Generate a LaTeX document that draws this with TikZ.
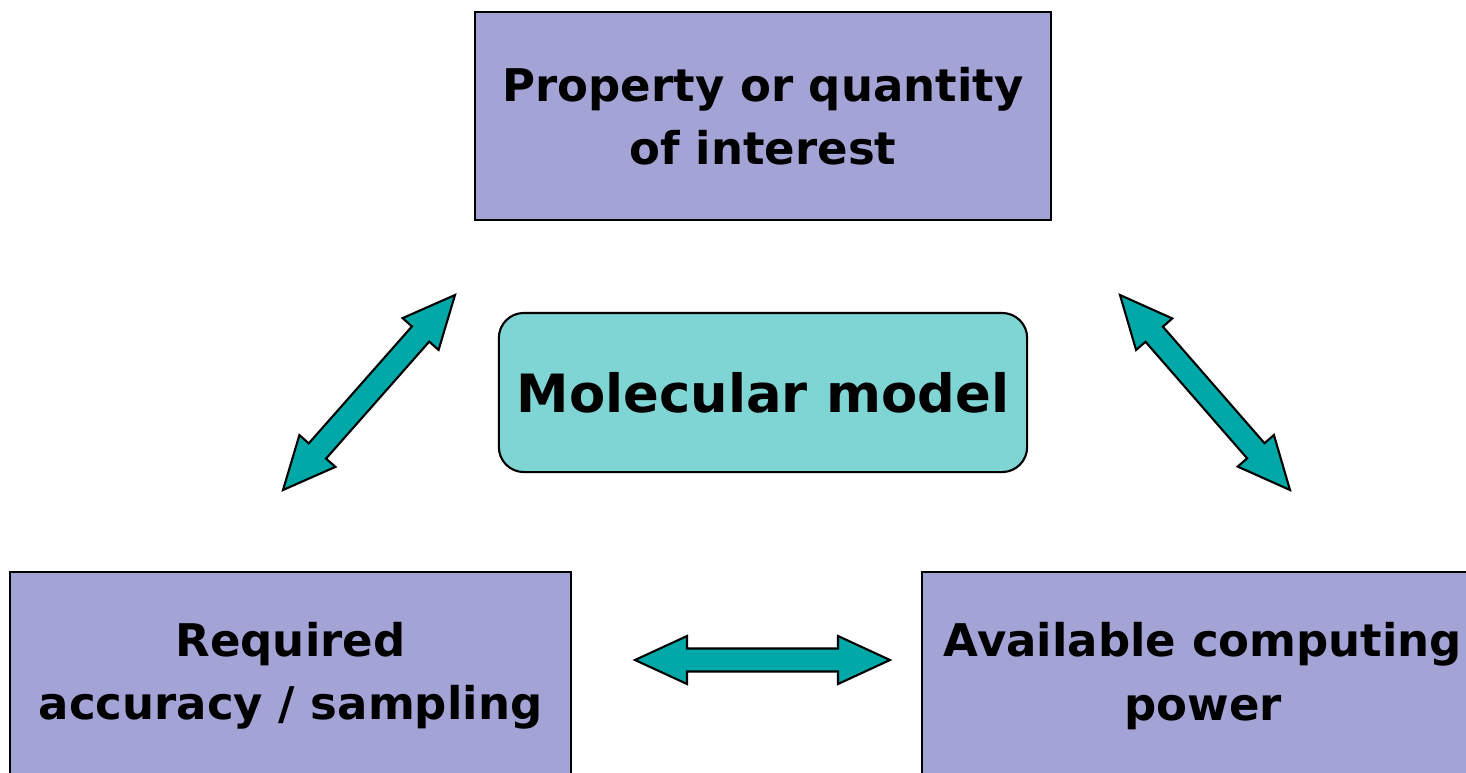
\documentclass[tikz,border=0pt]{standalone}
\usepackage{fontspec}
\setmainfont{DejaVu Sans}
\usetikzlibrary{positioning,calc}
\definecolor{boxlav}{RGB}{163,163,214}
\definecolor{boxcyan}{RGB}{127,212,212}
\definecolor{arrteal}{RGB}{0,168,168}
% fat double arrow between two named points
\newcommand{\fatarrow}[2]{%
\draw[fatarr] (#1) -- ($(#1)!0.52cm!(#2)!0.24cm!90:(#2)$) -- ($(#1)!0.52cm!(#2)!0.115cm!90:(#2)$)
 -- ($(#2)!0.52cm!(#1)!0.115cm!-90:(#1)$) -- ($(#2)!0.52cm!(#1)!0.24cm!-90:(#1)$) -- (#2)
 -- ($(#2)!0.52cm!(#1)!0.24cm!90:(#1)$) -- ($(#2)!0.52cm!(#1)!0.115cm!90:(#1)$)
 -- ($(#1)!0.52cm!(#2)!0.115cm!-90:(#2)$) -- ($(#1)!0.52cm!(#2)!0.24cm!-90:(#2)$) -- cycle;}

\begin{document}
\begin{tikzpicture}[x=0.01cm,y=-0.01cm,
  sqbox/.style={draw,line width=0.6pt,fill=boxlav,align=center,inner sep=0pt,
    minimum height=2.08cm,font=\bfseries\fontsize{12.8}{18}\selectfont},
  fatarr/.style={draw,line width=0.6pt,fill=arrteal,line join=miter}]
\useasboundingbox (0,0) rectangle (1466,772);
\clip (0,0) rectangle (1466,772);
% the four boxes
\node[sqbox,minimum width=5.76cm] (prop) at (763,116) {Property or quantity\\of interest};
\node[draw,line width=0.6pt,fill=boxcyan,rounded corners=0.25cm,minimum width=5.28cm,minimum height=1.59cm,
  inner sep=0pt,font=\bfseries\fontsize{15}{20}\selectfont] (model) at (763,392.5) {Molecular model};
\node[sqbox,minimum width=5.61cm] (accu) at (290.5,676) {Required\\accuracy / sampling};
\node[sqbox,minimum width=5.62cm] (comp) at (1203,676) {Available computing\\power};
% arrow ends
\coordinate (la) at (283,490);
\coordinate (lb) at (455,295);
\coordinate (ra) at (1120,295);
\coordinate (rb) at (1290,490);
\coordinate (ba) at (635,660);
\coordinate (bb) at (890,660);
\fatarrow{la}{lb}
\fatarrow{ra}{rb}
\fatarrow{ba}{bb}
\end{tikzpicture}
\end{document}
